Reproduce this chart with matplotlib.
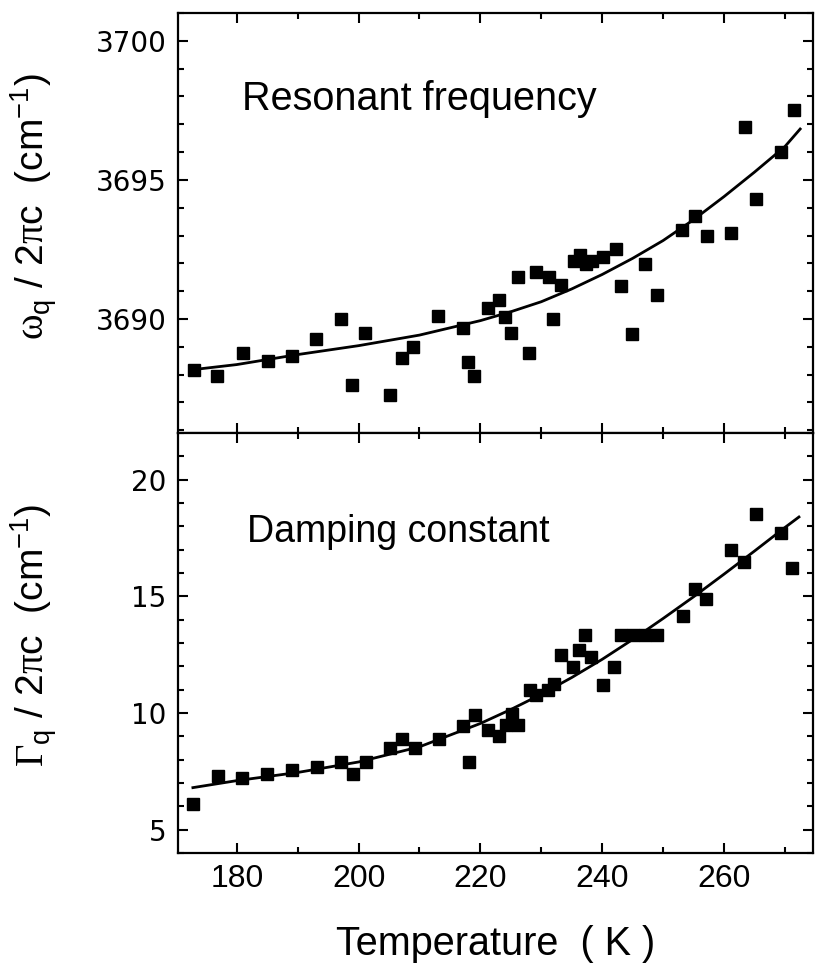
import numpy as np
import matplotlib
matplotlib.use("Agg")
import matplotlib.pyplot as plt
from matplotlib.ticker import MultipleLocator

plt.rcParams['font.family'] = ['Liberation Sans', 'DejaVu Sans']
plt.rcParams['mathtext.fontset'] = 'custom'
plt.rcParams['mathtext.rm'] = 'Liberation Sans'
plt.rcParams['mathtext.it'] = 'Liberation Sans:italic'
plt.rcParams['mathtext.sf'] = 'Liberation Serif'

# resonant frequency (cm^-1) vs temperature (K)
temp_w = [172.9, 176.8, 181.0, 185.1, 189.0, 193.0, 197.1, 199.0, 201.0, 205.1,
          207.1, 209.0, 213.1, 217.1, 218.0, 219.0, 221.2, 223.1, 224.1, 225.1,
          226.2, 228.0, 229.2, 231.2, 232.0, 233.2, 235.3, 236.3, 237.3, 238.3,
          240.2, 242.2, 243.1, 244.9, 247.1, 249.0, 253.1, 255.3, 257.2, 261.2,
          263.4, 265.2, 269.3, 271.5]
omega = [3688.18, 3687.96, 3688.78, 3688.48, 3688.68, 3689.28, 3690.00, 3687.64, 3689.49, 3687.25,
         3688.59, 3688.98, 3690.10, 3689.66, 3688.47, 3687.96, 3690.38, 3690.68, 3690.06, 3689.49,
         3691.50, 3688.77, 3691.68, 3691.52, 3690.00, 3691.22, 3692.10, 3692.30, 3691.98, 3692.10,
         3692.22, 3692.51, 3691.20, 3689.46, 3691.98, 3690.87, 3693.21, 3693.69, 3692.99, 3693.09,
         3696.92, 3694.31, 3696.02, 3697.51]

# damping constant (cm^-1) vs temperature (K)
temp_g = [172.8, 176.9, 180.9, 185.0, 189.1, 193.2, 197.1, 199.1, 201.2, 205.2,
          207.1, 209.2, 213.2, 217.1, 218.1, 219.1, 221.2, 223.1, 224.2, 225.2,
          226.2, 228.1, 229.2, 231.1, 232.1, 233.2, 235.2, 236.2, 237.2, 238.1,
          240.1, 242.0, 243.1, 245.1, 247.1, 249.0, 253.2, 255.2, 257.1, 261.2,
          263.2, 265.2, 269.3, 271.2]
gamma = [6.11, 7.30, 7.23, 7.40, 7.54, 7.69, 7.90, 7.40, 7.90, 8.51,
         8.90, 8.51, 8.90, 9.44, 7.90, 9.90, 9.29, 9.00, 9.50, 9.97,
         9.50, 11.00, 10.79, 10.97, 11.26, 12.47, 11.97, 12.69, 13.36, 12.40,
         11.21, 11.97, 13.36, 13.36, 13.36, 13.36, 14.16, 15.30, 14.87, 17.00,
         16.47, 18.51, 17.73, 16.23]

# fitted curves as drawn
fit_t_w = [172.9, 180, 190, 200, 210, 220, 225, 230, 235, 240, 245, 250, 255, 260, 265, 270, 272.5]
fit_w = [3688.18, 3688.36, 3688.72, 3689.04, 3689.42, 3689.94, 3690.26, 3690.62, 3691.08,
         3691.60, 3692.18, 3692.82, 3693.57, 3694.40, 3695.28, 3696.20, 3696.83]
fit_t_g = [172.8, 180, 190, 200, 210, 220, 225, 230, 235, 240, 245, 250, 255, 260, 265, 270, 272.3]
fit_g = [6.80, 7.10, 7.45, 7.90, 8.55, 9.55, 10.15, 10.80, 11.52, 12.30, 13.15, 14.05,
         14.98, 15.95, 16.94, 17.95, 18.40]

fig = plt.figure(figsize=(8.15, 9.65), dpi=100)
ax1 = fig.add_axes([0.218, 0.5513, 0.7795, 0.4352])
ax2 = fig.add_axes([0.218, 0.1161, 0.7795, 0.4352], sharex=ax1)

for ax in (ax1, ax2):
    for sp in ax.spines.values():
        sp.set_linewidth(1.6)
    ax.tick_params(which='both', direction='in', top=True, right=True, width=1.5)
    ax.tick_params(which='major', length=7)
    ax.tick_params(which='minor', length=4)
    ax.xaxis.set_major_locator(MultipleLocator(20))
    ax.xaxis.set_minor_locator(MultipleLocator(10))
    ax.yaxis.set_minor_locator(MultipleLocator(1))

ax1.plot(fit_t_w, fit_w, color='black', lw=2.0, solid_joinstyle='round')
ax1.plot(temp_w, omega, 's', color='black', ms=8, mec='black')
ax1.set_xlim(170.3, 274.6)
ax1.set_ylim(3685.9, 3701.0)
ax1.set_yticks([3690, 3695, 3700], ['3690', '3695', '3700'], fontfamily='DejaVu Sans')
ax1.tick_params(axis='y', labelsize=20, pad=8)
ax1.tick_params(axis='x', labelbottom=False)
ax1.text(0.102, 0.769, 'Resonant frequency', transform=ax1.transAxes,
         fontsize=28.5, va='baseline', ha='left')

ax2.plot(fit_t_g, fit_g, color='black', lw=2.0, solid_joinstyle='round')
ax2.plot(temp_g, gamma, 's', color='black', ms=8, mec='black')
ax2.set_ylim(4.0, 22.0)
ax2.set_yticks([5, 10, 15, 20], ['5', '10', '15', '20'], fontfamily='DejaVu Sans')
ax2.tick_params(axis='y', labelsize=20, pad=8)
ax2.tick_params(axis='x', labelsize=23, pad=8)
ax2.text(0.109, 0.740, 'Damping constant', transform=ax2.transAxes,
         fontsize=27, va='baseline', ha='left')

fig.text(0.608, 0.0104, 'Temperature  ( K )', fontsize=28.5, ha='center', va='baseline')
fig.text(0.042, 0.7855, r'$\mathsf{\omega}_\mathrm{q}$ / 2$\mathsf{\pi}$c  (cm$^{\mathrm{-1}}$)',
         fontsize=28, rotation=90, ha='center', va='center')
fig.text(0.042, 0.342, r'$\mathsf{\Gamma}_\mathrm{q}$ / 2$\mathsf{\pi}$c  (cm$^{\mathrm{-1}}$)',
         fontsize=28, rotation=90, ha='center', va='center')

fig.savefig('out.png', dpi=100)
